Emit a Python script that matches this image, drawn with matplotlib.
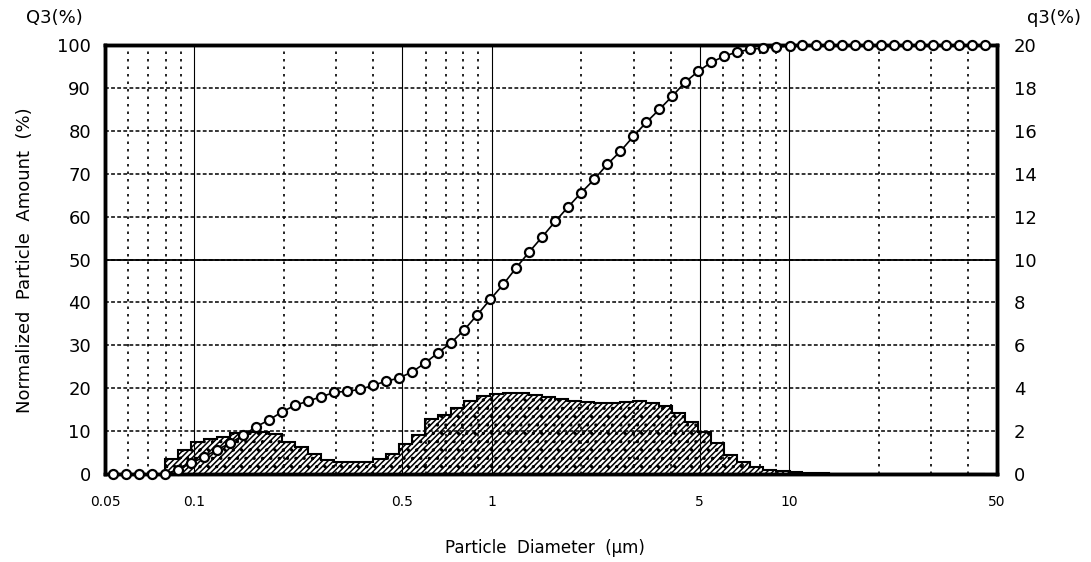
import numpy as np
import matplotlib.pyplot as plt
from matplotlib.ticker import FixedLocator, NullFormatter

# particle diameter channels (um)
diameter = [0.0532, 0.0588, 0.0651, 0.0720, 0.0796, 0.0880, 0.0974, 0.1077,
            0.1191, 0.1317, 0.1457, 0.1611, 0.1782, 0.1971, 0.2180, 0.2411,
            0.2667, 0.2949, 0.3262, 0.3608, 0.3990, 0.4413, 0.4881, 0.5399,
            0.5971, 0.6604, 0.7304, 0.8078, 0.8935, 0.9882, 1.093, 1.209,
            1.337, 1.479, 1.635, 1.809, 2.000, 2.212, 2.447, 2.706,
            2.993, 3.311, 3.662, 4.050, 4.479, 4.954, 5.479, 6.060,
            6.702, 7.413, 8.199, 9.068, 10.03, 11.09, 12.27, 13.57,
            15.01, 16.60, 18.36, 20.30, 22.45, 24.83, 27.47, 30.38,
            33.60, 37.16, 41.10, 45.46]

# cumulative Q3 (%) at each channel
Q3 = [0, 0, 0, 0, 0, 1.0, 2.5, 4.0, 5.6, 7.2,
      9.0, 11.0, 12.6, 14.5, 16.0, 17.0, 18.0, 19.0, 19.3, 19.7,
      20.7, 21.6, 22.4, 23.8, 25.9, 28.3, 30.6, 33.6, 37.1, 40.7,
      44.2, 48.1, 51.8, 55.3, 58.9, 62.3, 65.6, 68.7, 72.2, 75.2,
      78.7, 82.0, 85.0, 88.1, 91.4, 93.9, 96.0, 97.4, 98.4, 99.0,
      99.3, 99.5, 99.8, 100, 100, 100, 100, 100, 100, 100,
      100, 100, 100, 100, 100, 100, 100, 100]

# frequency q3 (%) per channel (between consecutive diameters)
q3 = [0, 0, 0, 0, 0.70, 1.12, 1.50, 1.64, 1.74, 1.90,
      1.98, 1.96, 1.86, 1.50, 1.24, 0.92, 0.66, 0.56, 0.54, 0.58,
      0.72, 0.92, 1.40, 1.80, 2.56, 2.76, 3.08, 3.38, 3.62, 3.72,
      3.76, 3.76, 3.66, 3.58, 3.48, 3.42, 3.34, 3.32, 3.30, 3.36,
      3.38, 3.30, 3.16, 2.84, 2.44, 1.98, 1.44, 0.88, 0.58, 0.32,
      0.18, 0.14, 0.10, 0.06, 0.04, 0, 0, 0, 0, 0,
      0, 0, 0, 0, 0, 0, 0]

xticks = [0.05, 0.1, 0.5, 1, 5, 10, 50]
xticklabels = ['0.05', '0.1', '0.5', '1', '5', '10', '50']
xminor = [0.06, 0.07, 0.08, 0.09, 0.2, 0.3, 0.4, 0.6, 0.7, 0.8, 0.9,
          2, 3, 4, 6, 7, 8, 9, 20, 30, 40]

plt.rcParams['hatch.linewidth'] = 1.1

fig = plt.figure(figsize=(10.91, 5.62), dpi=100)
ax = fig.add_axes([0.0962, 0.1566, 0.8176, 0.7633])
ax2 = ax.twinx()

# histogram on the right scale, behind the left axes
ax2.stairs(q3, diameter, fill=True, facecolor='white', edgecolor='black',
           hatch='//////..', linewidth=1.5)
ax2.set_ylim(0, 20)
ax2.set_yticks(np.arange(0, 21, 2))
ax2.tick_params(axis='y', length=0, pad=12, labelsize=13)
ax.set_zorder(ax2.get_zorder() + 1)
ax.patch.set_visible(False)

ax.set_xscale('log')
ax.set_xlim(0.05, 50)
ax.set_ylim(0, 100)
ax.set_xticks(xticks)
ax.set_xticklabels(xticklabels)
ax.xaxis.set_minor_locator(FixedLocator(xminor))
ax.xaxis.set_minor_formatter(NullFormatter())
ax.set_yticks(np.arange(0, 101, 10))
ax.tick_params(axis='x', which='both', length=0, pad=15, labelsize=10)
ax.tick_params(axis='y', length=0, pad=10, labelsize=13)

ax.grid(which='major', axis='x', color='black', linestyle='-', linewidth=0.8)
ax.grid(which='minor', axis='x', color='black', linestyle=(0, (1.5, 3)), linewidth=1.2)
ax.grid(which='major', axis='y', color='black', linestyle=(0, (2.5, 1.5)), linewidth=1.1)
ax.axhline(50, color='black', linewidth=1.3)

ax.plot(diameter, Q3, '-o', color='black', linewidth=1.2, markersize=6.5,
        markerfacecolor='white', markeredgecolor='black', markeredgewidth=1.6,
        clip_on=False, zorder=5)

for a in (ax, ax2):
    for s in a.spines.values():
        s.set_linewidth(2.5)

fig.text(0.05, 0.968, 'Q3(%)', fontsize=13, ha='center', va='center')
fig.text(0.966, 0.968, 'q3(%)', fontsize=13, ha='center', va='center')
fig.text(0.023, 0.537, 'Normalized  Particle  Amount  (%)', fontsize=13,
         rotation=90, ha='center', va='center')
fig.text(0.4995, 0.025, 'Particle  Diameter  (\u00b5m)', fontsize=12,
         ha='center', va='center')

fig.savefig('out.png', dpi=100)
